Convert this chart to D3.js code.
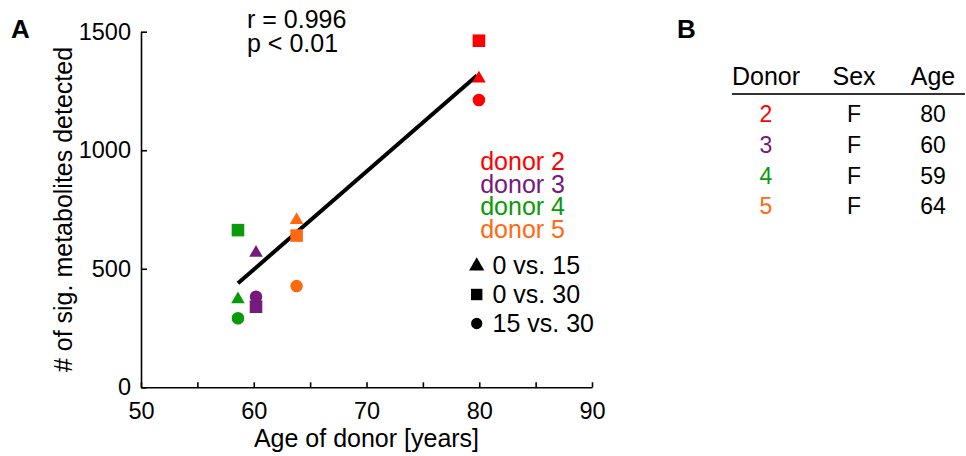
<!DOCTYPE html>
<html>
<head>
<meta charset="utf-8">
<script src="https://cdn.jsdelivr.net/npm/d3@7"></script>
<style>
  body { margin: 0; background: #fff; }
  text { font-family: "Liberation Sans", Arial, sans-serif; fill: #000; }
</style>
</head>
<body>
<div id="chart"></div>
<script>
// Chart data
const donors = ["donor 2", "donor 3", "donor 4", "donor 5"];
const donorColors = ["#ff0000", "#761a7c", "#0a9a0a", "#ff6a10"];
const pointAges = [79.97, 60.2, 58.6, 63.8];     // x position of each donor's markers
const vs0_15 = [1302, 567, 371, 705];           // triangles
const vs0_30 = [1462, 340, 663, 640];           // squares
const vs15_30 = [1212, 382, 291, 427];          // circles
const comparisons = ["0 vs. 15", "0 vs. 30", "15 vs. 30"];
const fitLine = [{age: 58.6, n: 439}, {age: 79.8, n: 1315}];
const yTicks = [0, 500, 1000, 1500];
const xTicks = [50, 55, 60, 65, 70, 75, 80, 85, 90];
const stats = ["r = 0.996", "p < 0.01"];

// Table (panel B)
const tableHeader = ["Donor", "Sex", "Age"];
const donorIds = ["2", "3", "4", "5"];
const donorSex = ["F", "F", "F", "F"];
const donorAge = [80, 60, 59, 64];

const width = 966;
const height = 456;
const margin = {left: 141, right: 374, top: 31.7, bottom: 68.7};

const svg = d3.select("#chart")
  .append("svg")
  .attr("width", width)
  .attr("height", height);

const x = d3.scaleLinear()
  .domain([50, 90])
  .range([margin.left, width - margin.right]);

const y = d3.scaleLinear()
  .domain([0, 1500])
  .range([height - margin.bottom, margin.top]);

/*
  Axes
*/
const yAxis = svg.append("g")
  .attr("transform", `translate(${margin.left},0)`)
  .call(d3.axisLeft(y).tickValues(yTicks).tickFormat(d3.format("d"))
    .tickSizeInner(-6).tickSizeOuter(0).tickPadding(10));

const xAxis = svg.append("g")
  .attr("transform", `translate(0,${height - margin.bottom})`)
  .call(d3.axisBottom(x).tickValues(xTicks).tickSizeInner(-5).tickSizeOuter(0).tickPadding(15)
    .tickFormat(d => d % 10 === 0 ? d : ""));

[yAxis, xAxis].forEach(g => {
  g.attr("font-family", null).attr("font-size", null);
  g.selectAll("path, line").attr("stroke", "#000").attr("stroke-width", 1.6);
  g.selectAll("text").style("font-size", "23.5px");
});

svg.append("text")
  .attr("x", (x(50) + x(90)) / 2)
  .attr("y", 447)
  .attr("text-anchor", "middle")
  .style("font-size", "25px")
  .text("Age of donor [years]");

svg.append("text")
  .attr("transform", `translate(72,${(y(0) + y(1500)) / 2}) rotate(-90)`)
  .attr("text-anchor", "middle")
  .style("font-size", "25px")
  .text("# of sig. metabolites detected");

/*
  Fit line and markers
*/
svg.append("path")
  .datum(fitLine)
  .attr("fill", "none")
  .attr("stroke", "#000")
  .attr("stroke-width", 4)
  .attr("d", d3.line().x(d => x(d.age)).y(d => y(d.n)));

const shapes = [
  {sym: d3.symbolTriangle, size: 80, values: vs0_15},
  {sym: d3.symbolSquare, size: 158, values: vs0_30},
  {sym: d3.symbolCircle, size: 124, values: vs15_30}
];

shapes.forEach(s => {
  svg.selectAll(null)
    .data(s.values)
    .enter()
    .append("path")
    .attr("d", d3.symbol().type(s.sym).size(s.size))
    .attr("fill", (d, i) => donorColors[i])
    .attr("transform", (d, i) => `translate(${x(pointAges[i])},${y(d)})`);
});

/*
  Legend
*/
svg.selectAll(".donor-label")
  .data(donors)
  .enter()
  .append("text")
  .attr("class", "donor-label")
  .attr("x", 565)
  .attr("y", (d, i) => 170 + i * 22.7)
  .attr("text-anchor", "end")
  .style("font-size", "25px")
  .style("fill", (d, i) => donorColors[i])
  .text(d => d);

const legendY = [266, 294.5, 323.5];
comparisons.forEach((c, i) => {
  svg.append("path")
    .attr("d", d3.symbol().type(shapes[i].sym).size(i === 1 ? 130 : 100))
    .attr("transform", `translate(476.7,${legendY[i]})`)
    .attr("fill", "#000");
  svg.append("text")
    .attr("x", 492.5)
    .attr("y", legendY[i] + 8)
    .style("font-size", "25px")
    .text(c);
});

svg.selectAll(".stat")
  .data(stats)
  .enter()
  .append("text")
  .attr("x", 247)
  .attr("y", (d, i) => 27.5 + i * 24.5)
  .style("font-size", "25px")
  .text(d => d);

/*
  Panel labels
*/
svg.append("text").attr("x", 11).attr("y", 38)
  .style("font-size", "26px").style("font-weight", "bold").text("A");
svg.append("text").attr("x", 677).attr("y", 38)
  .style("font-size", "26px").style("font-weight", "bold").text("B");

/*
  Table
*/
const colX = [766, 854, 933];
const rowY = d3.scaleLinear().domain([0, 1]).range([121.7, 152.6]);

svg.selectAll(".th")
  .data(tableHeader)
  .enter()
  .append("text")
  .attr("class", "th")
  .attr("x", (d, i) => colX[i])
  .attr("y", 85)
  .attr("text-anchor", "middle")
  .style("font-size", "25px")
  .text(d => d);

svg.append("line")
  .attr("x1", 732).attr("x2", 965)
  .attr("y1", 94).attr("y2", 94)
  .attr("stroke", "#333")
  .attr("stroke-width", 2);

const rows = donorIds.map((id, i) => [id, donorSex[i], donorAge[i]]);
rows.forEach((r, i) => {
  svg.selectAll(null)
    .data(r)
    .enter()
    .append("text")
    .attr("x", (d, j) => colX[j])
    .attr("y", rowY(i))
    .attr("text-anchor", "middle")
    .style("font-size", "23px")
    .style("fill", (d, j) => j === 0 ? donorColors[i] : "#000")
    .text(d => d);
});
</script>
</body>
</html>
